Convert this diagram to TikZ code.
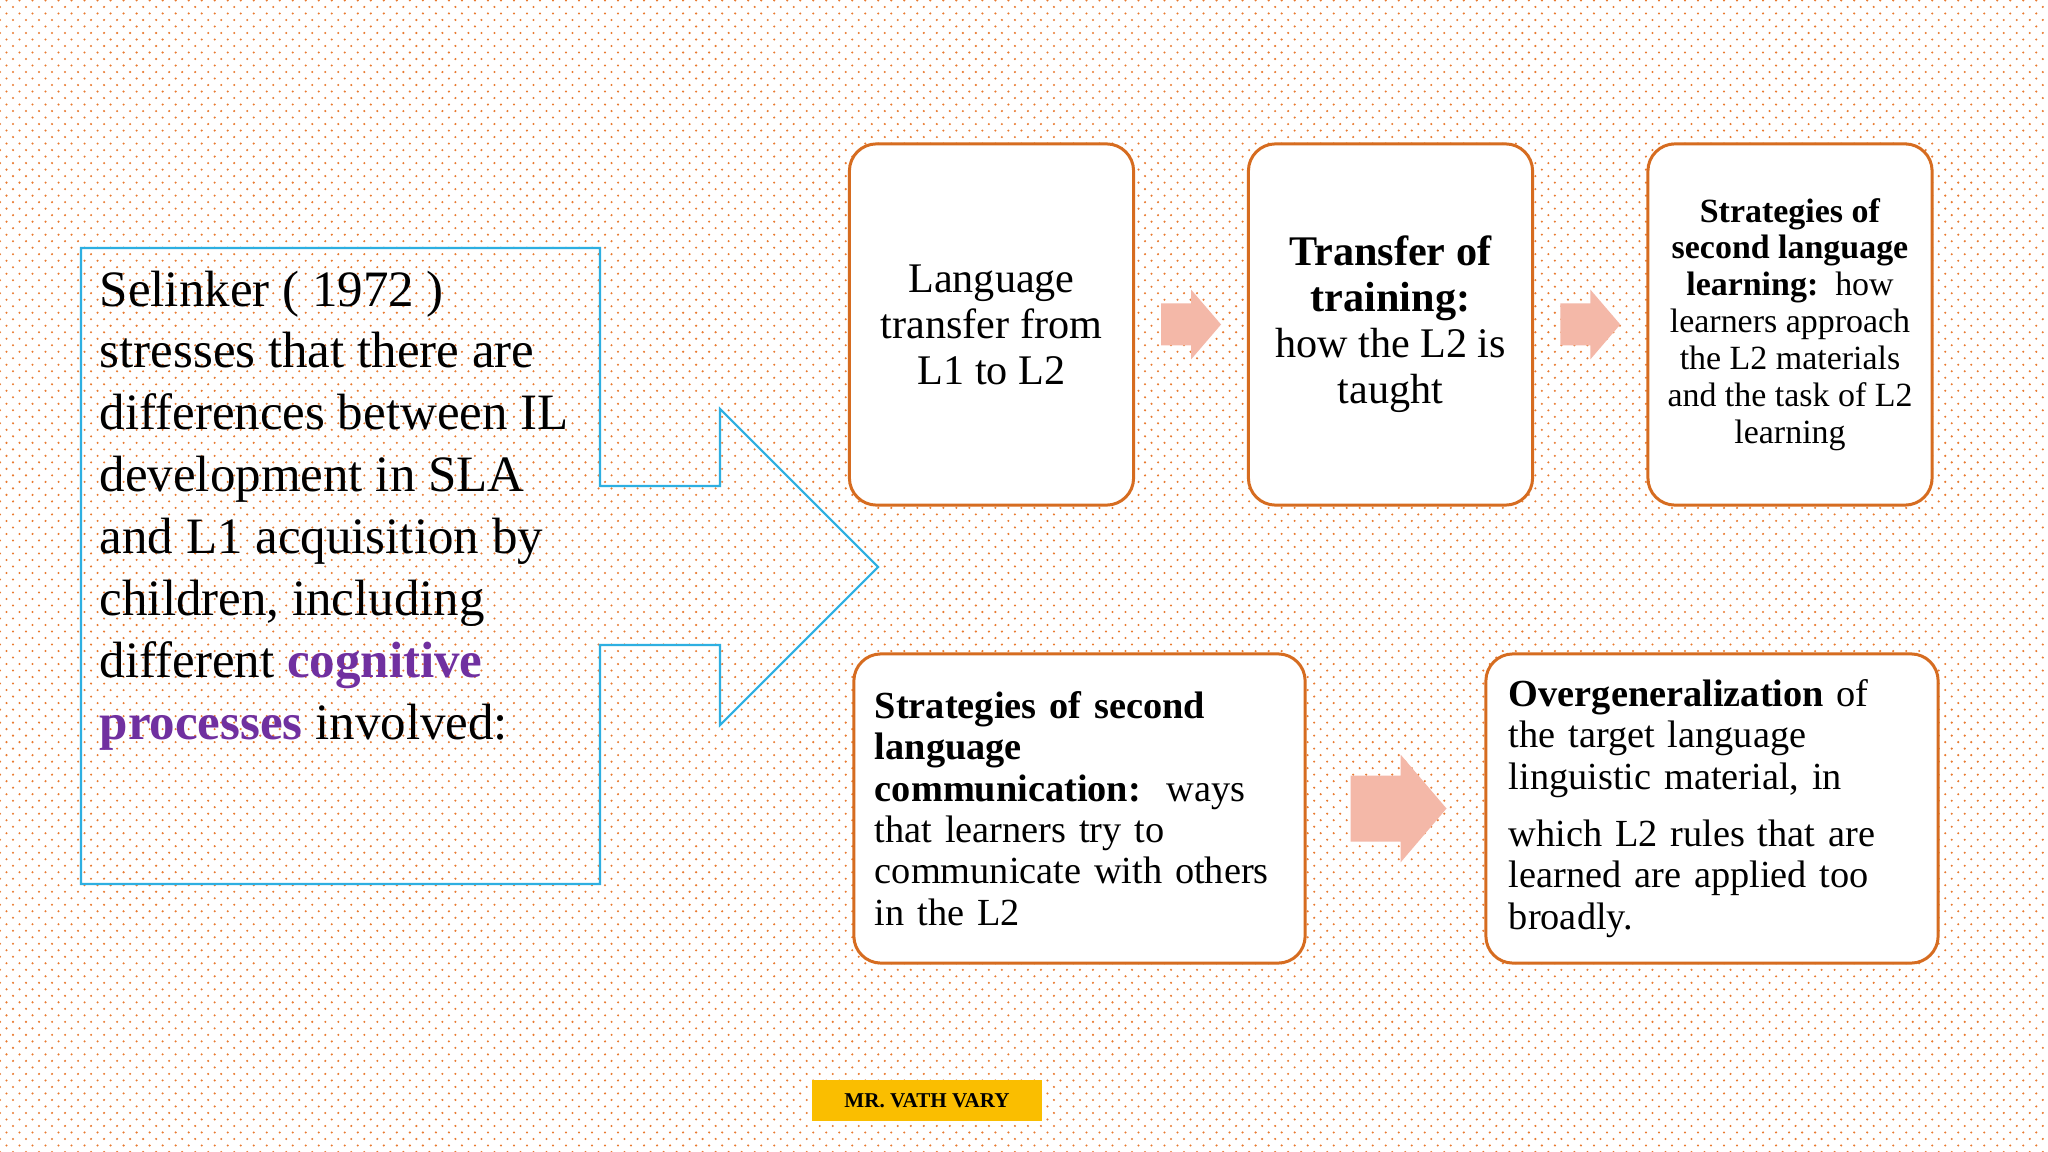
\documentclass[tikz,border=0pt]{standalone}
\usepackage{fontspec}
\setmainfont{Liberation Serif}
\usetikzlibrary{patterns,calc}
\definecolor{dotor}{RGB}{232,122,48}
\definecolor{boxor}{RGB}{214,108,32}
\definecolor{calcyan}{RGB}{45,175,225}
\definecolor{arrpink}{RGB}{244,184,168}
\definecolor{purp}{RGB}{112,48,160}
\definecolor{footy}{RGB}{250,190,0}
\pgfdeclarepatternformonly{bgdots}{\pgfqpoint{-0.5pt}{-0.5pt}}{\pgfqpoint{4.2pt}{4.2pt}}{\pgfqpoint{3.7pt}{3.7pt}}{%
  \pgfpathcircle{\pgfqpoint{0pt}{0pt}}{0.33pt}%
  \pgfpathcircle{\pgfqpoint{1.85pt}{1.85pt}}{0.33pt}%
  \pgfusepath{fill}}
\tikzset{
  stepbox/.style={draw=boxor, line width=0.85pt, fill=white, rounded corners=0.27cm, inner sep=0pt},
  topbox/.style={stepbox, align=center, minimum width=2.84cm, minimum height=3.61cm},
  lowbox/.style={stepbox, align=left, minimum height=3.09cm, inner ysep=0pt},
  blockarrow/.style={fill=arrpink, draw=none},
}
\begin{document}
\begin{tikzpicture}[x=0.01cm,y=-0.01cm]
\useasboundingbox (0,0) rectangle (2048,1152);
\fill[white] (0,0) rectangle (2048,1152);
\fill[pattern=bgdots, pattern color=dotor] (0,0) rectangle (2048,1152);

% callout shape
\draw[calcyan, line width=0.6pt, line join=miter]
  (81,248) -- (600,248) -- (600,486) -- (720,486) -- (720,409) -- (878,567)
  -- (720,725) -- (720,645) -- (600,645) -- (600,884) -- (81,884) -- cycle;

\node[anchor=north west, inner sep=0pt, align=left, font=\fontsize{14.5}{17.6}\selectfont] (intro) at (99,270)
  {Selinker ( 1972 )\\stresses that there are\\differences between IL\\development in SLA\\and L1 acquisition by\\children, including\\different \textcolor{purp}{\textbf{cognitive}}\\\textcolor{purp}{\textbf{processes}} involved:};

% top row
\node[topbox, font=\fontsize{12}{13.1}\selectfont] (boxA) at (991.5,324.5)
  {Language\\transfer from\\L1 to L2};
\node[topbox, font=\fontsize{12}{13.1}\selectfont] (boxB) at (1390.5,324.5)
  {\textbf{Transfer of}\\\textbf{training:}\\how the L2 is\\taught};
\node[topbox, font=\fontsize{9.65}{10.5}\selectfont] (boxC) at (1790,324.5)
  {\textbf{Strategies of}\\\textbf{second language}\\\textbf{learning:}~~how\\learners approach\\the L2 materials\\and the task of L2\\learning};

% bottom row
\node[lowbox, text width=4.09cm, inner xsep=0.21cm, font=\fontsize{10.9}{11.75}\selectfont] (boxD) at (1079.5,808.5)
  {\textbf{Strategies of second}\\\textbf{language}\\\textbf{communication:}~~ways\\that learners try to\\communicate with others\\in the L2};
\node[lowbox, text width=4.06cm, inner xsep=0.23cm, font=\fontsize{10.9}{11.75}\selectfont] (boxE) at (1712,808.5)
  {\textbf{Overgeneralization} of\\the target language\\linguistic material, in\\[4.5pt]which L2 rules that are\\learned are applied too\\broadly.};

% block arrows between boxes
\coordinate (a1) at ($(boxA.east)!0.5!(boxB.west)$);
\coordinate (a2) at ($(boxB.east)!0.5!(boxC.west)$);
\coordinate (a3) at ($(boxD.east)!0.5!(boxE.west)$);
\fill[blockarrow] ([shift={(-30,-21)}]a1) -- ++(30,0) -- ++(0,-14) -- ++(30,35) -- ++(-30,35) -- ++(0,-14) -- ++(-30,0) -- cycle;
\fill[blockarrow] ([shift={(-30,-21)}]a2) -- ++(30,0) -- ++(0,-14) -- ++(30,35) -- ++(-30,35) -- ++(0,-14) -- ++(-30,0) -- cycle;
\fill[blockarrow] ([shift={(-45,-33)}]a3) -- ++(50,0) -- ++(0,-21) -- ++(46,54) -- ++(-46,54) -- ++(0,-21) -- ++(-50,0) -- cycle;

% footer label
\node[fill=footy, minimum width=2.3cm, minimum height=0.41cm, inner sep=0pt, font=\fontsize{6}{7}\selectfont\bfseries] (footer) at (927,1100.5) {MR. VATH VARY};
\end{tikzpicture}
\end{document}
